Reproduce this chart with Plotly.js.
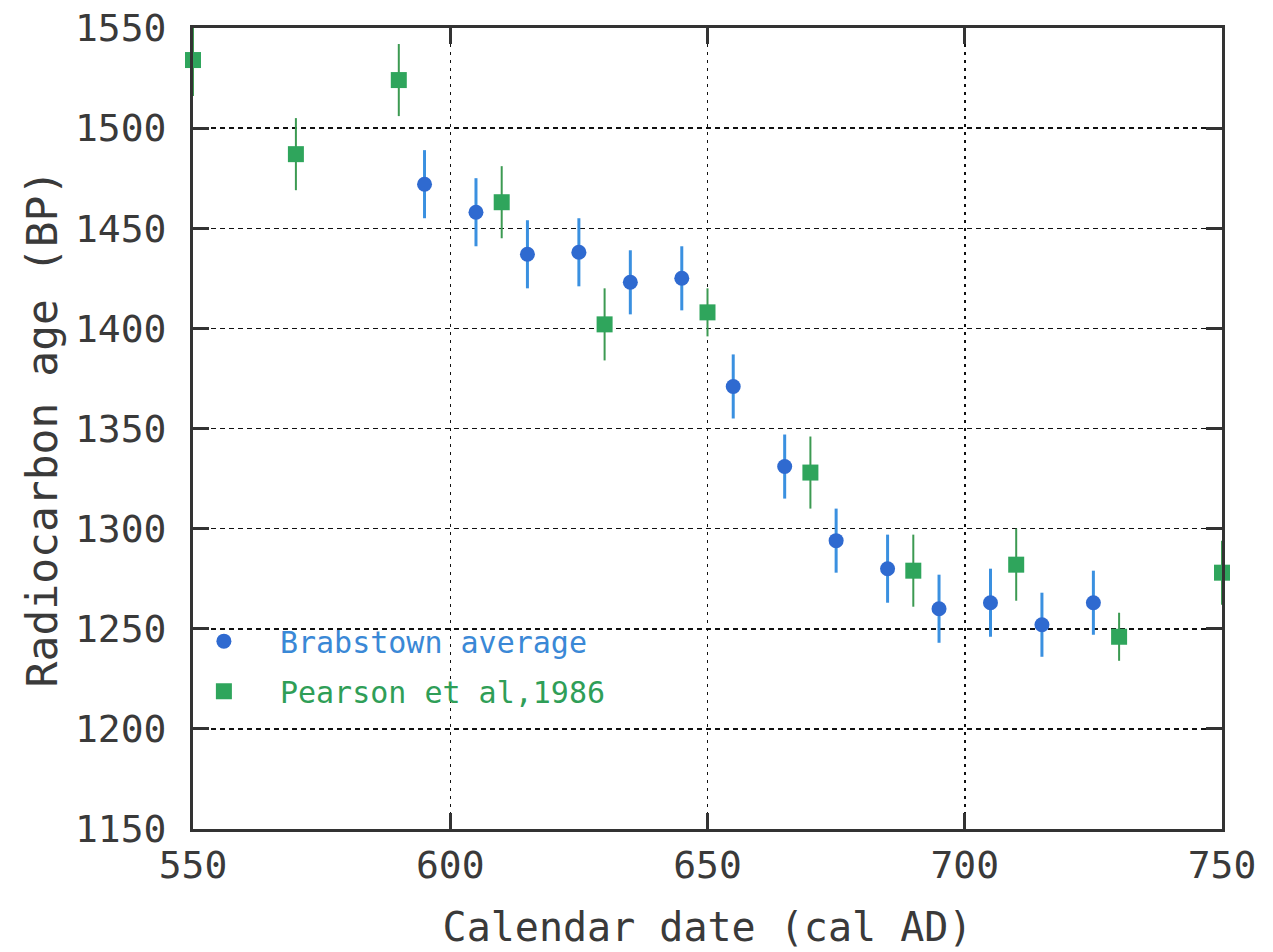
<!DOCTYPE html>
<html>
<head>
<meta charset="utf-8">
<script src="https://cdn.plot.ly/plotly-3.0.1.min.js"></script>
<style>html,body{margin:0;padding:0;background:#fff;}#chart{width:1273px;height:952px;}</style>
</head>
<body>
<div id="chart"></div>
<script>
// Brabstown average
const brabYears = [595, 605, 615, 625, 635, 645, 655, 665, 675, 685, 695, 705, 715, 725];
const brabAge   = [1472, 1458, 1437, 1438, 1423, 1425, 1371, 1331, 1294, 1280, 1260, 1263, 1252, 1263];
const brabErr   = [17, 17, 17, 17, 16, 16, 16, 16, 16, 17, 17, 17, 16, 16];
// Pearson et al, 1986
const pearYears = [550, 570, 590, 610, 630, 650, 670, 690, 710, 730, 750];
const pearAge   = [1534, 1487, 1524, 1463, 1402, 1408, 1328, 1279, 1282, 1246, 1278];
const pearErr   = [18, 18, 18, 18, 18, 12, 18, 18, 18, 12, 16];
const xTicks = [550, 600, 650, 700, 750];
const yTicks = [1150, 1200, 1250, 1300, 1350, 1400, 1450, 1500, 1550];

const monoFont = '"DejaVu Sans Mono", "Liberation Mono", monospace';

const traces = [
  {
    x: brabYears, y: brabAge, type: 'scatter', mode: 'markers',
    name: '<span style="color:#3a88d6">Brabstown average</span>',
    legendgroup: 'a',
    cliponaxis: false,
    marker: {symbol: 'circle', size: 15, color: '#2f6ad0'},
    error_y: {type: 'data', array: brabErr, visible: true, color: '#3a90e0', thickness: 3, width: 0}
  },
  {
    x: pearYears, y: pearAge, type: 'scatter', mode: 'markers',
    name: '<span style="color:#2f9e57">Pearson et al,1986</span>',
    legendgroup: 'b',
    cliponaxis: false,
    marker: {symbol: 'square', size: 16, color: '#2fa55c'},
    error_y: {type: 'data', array: pearErr, visible: true, color: '#3c9a52', thickness: 2, width: 0}
  }
];

const layout = {
  width: 1273, height: 952,
  margin: {l: 193, r: 51, t: 28, b: 123},
  paper_bgcolor: '#ffffff', plot_bgcolor: '#ffffff',
  font: {family: monoFont, color: '#3a3a3a'},
  showlegend: true,
  legend: {
    x: -0.0244, y: 0.267, xanchor: 'left', yanchor: 'top',
    bgcolor: 'rgba(0,0,0,0)', borderwidth: 0,
    font: {family: monoFont, size: 30},
    traceorder: 'grouped', tracegroupgap: 8,
    itemwidth: 102
  },
  xaxis: {
    range: [550, 750], tickvals: xTicks, ticktext: xTicks.map(String),
    showline: true, linecolor: '#333', linewidth: 3, mirror: 'ticks',
    ticks: 'inside', ticklen: 16, tickwidth: 3, tickcolor: '#333',
    showgrid: true, gridcolor: '#111', gridwidth: 1.5, griddash: '3px,5px',
    zeroline: false,
    tickfont: {family: monoFont, size: 38, color: '#3a3a3a'},
    ticklabelstandoff: 0,
    title: {text: 'Calendar date (cal AD)', font: {family: monoFont, size: 40, color: '#3a3a3a'}, standoff: 28}
  },
  yaxis: {
    range: [1150, 1550], tickvals: yTicks, ticktext: yTicks.map(String),
    showline: true, linecolor: '#333', linewidth: 3, mirror: 'ticks',
    ticks: 'inside', ticklen: 16, tickwidth: 3, tickcolor: '#333',
    showgrid: true, gridcolor: '#111', gridwidth: 1.5, griddash: '5px,4px',
    zeroline: false,
    tickfont: {family: monoFont, size: 38, color: '#3a3a3a'},
    ticklabelstandoff: 16,
    title: {text: 'Radiocarbon age (BP)', font: {family: monoFont, size: 43, color: '#3a3a3a'}, standoff: 4}
  }
};

Plotly.newPlot('chart', traces, layout, {displayModeBar: false, staticPlot: true});
</script>
</body>
</html>
